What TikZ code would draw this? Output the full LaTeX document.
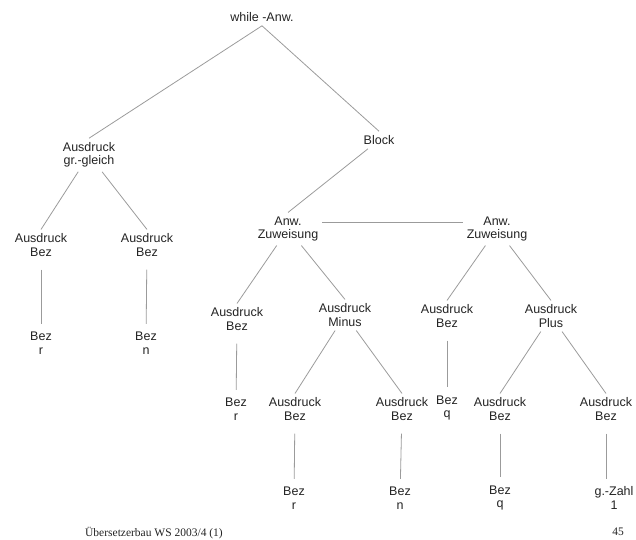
\documentclass[tikz,border=0pt]{standalone}
\usepackage{fontspec}
\setmainfont{Liberation Serif}
\newfontfamily\treefont{Liberation Sans}
\definecolor{edgegray}{RGB}{155, 155, 155}
\definecolor{labelgray}{RGB}{35, 35, 35}
\usetikzlibrary{calc}

\begin{document}
\begin{tikzpicture}[x=1pt, y=-1pt,
  tnode/.style={text=labelgray, align=center, inner sep=4pt, font=\treefont\fontsize{12.5}{13.5}\selectfont},
  tedge/.style={draw=edgegray, line width=0.8pt},
  vedge/.style={tedge, shorten <=9pt, shorten >=4pt},
  foot/.style={text=labelgray, inner sep=0pt, font=\fontsize{11.5}{12}\selectfont}]
  \useasboundingbox (0,0) rectangle (636,539);

  % Root
  \node[tnode] (whileanw) at (262, 17) {while -Anw.};

  % Condition
  \node[tnode] (gg) at (89, 155) {Ausdruck\\gr.-gleich};
  \node[tnode] (ab1) at (41, 245) {Ausdruck\\Bez};
  \node[tnode] (ab2) at (147, 245) {Ausdruck\\Bez};
  \node[tnode] (bezr1) at (41, 343) {Bez\\r};
  \node[tnode] (bezn1) at (146, 343) {Bez\\n};

  % Block
  \node[tnode] (block) at (379, 140) {Block};
  \node[tnode] (az1) at (288, 229) {Anw.\\Zuweisung};
  \node[tnode] (az2) at (497, 229) {Anw.\\Zuweisung};

  % First assignment
  \node[tnode] (ab3) at (237, 319) {Ausdruck\\Bez};
  \node[tnode] (minus) at (345, 315) {Ausdruck\\Minus};
  \node[tnode] (bezr2) at (236, 409) {Bez\\r};
  \node[tnode] (ab5) at (295, 409) {Ausdruck\\Bez};
  \node[tnode] (ab6) at (402, 409) {Ausdruck\\Bez};
  \node[tnode] (bezr3) at (294, 498) {Bez\\r};
  \node[tnode] (bezn2) at (400, 498) {Bez\\n};

  % Second assignment
  \node[tnode] (ab4) at (447, 316) {Ausdruck\\Bez};
  \node[tnode] (plus) at (551, 316) {Ausdruck\\Plus};
  \node[tnode] (bezq1) at (447, 408) {Bez\\q};
  \node[tnode] (ab7) at (500, 409) {Ausdruck\\Bez};
  \node[tnode] (ab8) at (606, 409) {Ausdruck\\Bez};
  \node[tnode] (bezq2) at (500, 498) {Bez\\q};
  \node[tnode] (zahl) at (614, 498) {g.-Zahl\\1};

  % Edges
  \draw[tedge] (whileanw.south) -- (gg.north);
  \draw[tedge] (whileanw.south) -- (block.north);
  \draw[tedge] (gg) -- (ab1.north);
  \draw[tedge] (gg) -- (ab2.north);
  \draw[vedge] (ab1) -- (bezr1);
  \draw[vedge] (ab2) -- (bezn1);
  \draw[tedge] (block) -- (az1.north);
  \draw[tedge] ($(az1.east)+(0,-7)$) -- ($(az2.west)+(0,-7)$);
  \draw[tedge] (az1) -- (ab3.north);
  \draw[tedge] (az1) -- (minus.north);
  \draw[vedge] (ab3) -- (bezr2);
  \draw[tedge] (minus) -- (ab5.north);
  \draw[tedge] (minus) -- (ab6.north);
  \draw[vedge] (ab5) -- (bezr3);
  \draw[vedge] (ab6) -- (bezn2);
  \draw[tedge] (az2) -- (ab4.north);
  \draw[tedge] (az2) -- (plus.north);
  \draw[vedge] (ab4) -- (bezq1);
  \draw[tedge] (plus) -- (ab7.north);
  \draw[tedge] (plus) -- (ab8.north);
  \draw[vedge] (ab7) -- (bezq2);
  \draw[vedge] (ab8) -- (ab8 |- zahl.north);

  % Footer
  \node[foot] (footer) at (154, 533) {Übersetzerbau WS 2003/4 (1)};
  \node[foot] (pagenum) at (618, 532) {45};
\end{tikzpicture}
\end{document}
